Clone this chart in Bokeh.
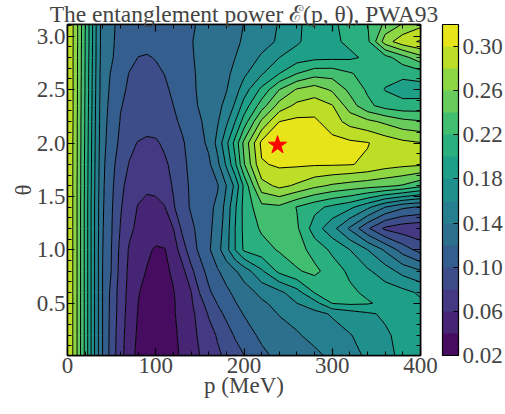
import numpy as np
from bokeh.plotting import figure
from bokeh.models import (LinearAxis, FixedTicker, PrintfTickFormatter, ColorBar,
                          LinearColorMapper, Range1d)
from bokeh.palettes import Viridis256
from bokeh.embed import file_html
from bokeh.resources import INLINE

# ---------------- data ----------------
p_values = [0, 5, 10, 15, 20, 25, 30, 35, 40,
            50, 60, 70, 80, 90, 100, 110, 120, 130, 140, 150, 160, 170, 180, 190, 200,
            220, 240, 260, 280, 300, 320, 340, 360, 380, 400]
theta_values = [0.0, 0.2, 0.4, 0.5, 0.6, 0.8, 1.0, 1.2, 1.4, 1.6, 1.8, 2.0,
                2.2, 2.35, 2.5, 2.65, 2.8, 2.95, 3.14]

row_000 = [0.293, 0.284, 0.264, 0.239, 0.215, 0.189, 0.163, 0.140, 0.119,
           0.091, 0.067, 0.048, 0.035, 0.030, 0.028, 0.030, 0.035, 0.043, 0.052, 0.060, 0.066, 0.076, 0.084, 0.092, 0.099,
           0.115, 0.125, 0.130, 0.135, 0.144, 0.153, 0.163, 0.175, 0.184, 0.190]
row_020 = [0.293, 0.284, 0.264, 0.239, 0.215, 0.189, 0.163, 0.140, 0.119,
           0.092, 0.068, 0.050, 0.037, 0.031, 0.029, 0.031, 0.036, 0.045, 0.054, 0.063, 0.072, 0.082, 0.092, 0.102, 0.111,
           0.124, 0.131, 0.138, 0.146, 0.152, 0.159, 0.167, 0.177, 0.186, 0.190]
row_040 = [0.293, 0.284, 0.264, 0.239, 0.215, 0.189, 0.163, 0.140, 0.119,
           0.093, 0.070, 0.052, 0.039, 0.033, 0.030, 0.032, 0.038, 0.047, 0.055, 0.067, 0.082, 0.094, 0.104, 0.113, 0.121,
           0.131, 0.141, 0.147, 0.154, 0.162, 0.170, 0.177, 0.183, 0.187, 0.186]
row_050 = [0.293, 0.284, 0.264, 0.239, 0.215, 0.189, 0.163, 0.140, 0.119,
           0.0935, 0.0705, 0.053, 0.040, 0.034, 0.031, 0.033, 0.038, 0.048, 0.057, 0.074, 0.088, 0.101, 0.110, 0.119, 0.126,
           0.137, 0.146, 0.160, 0.172, 0.201, 0.204, 0.202, 0.195, 0.190, 0.183]
row_060 = [0.293, 0.284, 0.264, 0.239, 0.215, 0.189, 0.163, 0.140, 0.119,
           0.094, 0.071, 0.054, 0.041, 0.035, 0.031, 0.033, 0.039, 0.049, 0.059, 0.081, 0.097, 0.107, 0.116, 0.124, 0.131,
           0.145, 0.155, 0.172, 0.201, 0.208, 0.204, 0.196, 0.190, 0.186, 0.177]
row_080 = [0.293, 0.284, 0.264, 0.239, 0.215, 0.189, 0.163, 0.140, 0.119,
           0.099, 0.073, 0.056, 0.046, 0.039, 0.034, 0.036, 0.043, 0.054, 0.075, 0.093, 0.106, 0.118, 0.128, 0.138, 0.149,
           0.177, 0.205, 0.218, 0.225, 0.210, 0.196, 0.183, 0.170, 0.153, 0.142]
row_100 = [0.293, 0.284, 0.264, 0.239, 0.215, 0.189, 0.163, 0.140, 0.120,
           0.0995, 0.075, 0.058, 0.050, 0.043, 0.038, 0.039, 0.050, 0.070, 0.091, 0.104, 0.117, 0.133, 0.153, 0.180, 0.203,
           0.212, 0.222, 0.229, 0.212, 0.196, 0.180, 0.160, 0.137, 0.111, 0.092]
row_120 = [0.293, 0.284, 0.264, 0.239, 0.215, 0.189, 0.163, 0.141, 0.121,
           0.101, 0.079, 0.064, 0.056, 0.051, 0.049, 0.052, 0.060, 0.084, 0.096, 0.106, 0.115, 0.129, 0.150, 0.180, 0.205,
           0.223, 0.234, 0.223, 0.190, 0.167, 0.137, 0.103, 0.076, 0.068, 0.065]
row_140 = [0.293, 0.284, 0.264, 0.239, 0.215, 0.189, 0.163, 0.141, 0.122,
           0.102, 0.082, 0.068, 0.059, 0.0555, 0.056, 0.059, 0.078, 0.092, 0.102, 0.108, 0.114, 0.125, 0.147, 0.177, 0.206,
           0.234, 0.236, 0.219, 0.206, 0.195, 0.185, 0.165, 0.140, 0.124, 0.118]
row_160 = [0.293, 0.284, 0.264, 0.240, 0.216, 0.190, 0.164, 0.142, 0.123,
           0.104, 0.085, 0.073, 0.066, 0.063, 0.064, 0.071, 0.082, 0.093, 0.103, 0.107, 0.111, 0.118, 0.140, 0.165, 0.204,
           0.272, 0.285, 0.277, 0.265, 0.257, 0.252, 0.248, 0.244, 0.238, 0.225]
row_180 = [0.293, 0.284, 0.265, 0.240, 0.216, 0.191, 0.165, 0.143, 0.124,
           0.106, 0.090, 0.079, 0.072, 0.069, 0.070, 0.076, 0.086, 0.096, 0.104, 0.109, 0.116, 0.135, 0.163, 0.196, 0.238,
           0.298, 0.303, 0.303, 0.302, 0.302, 0.301, 0.297, 0.289, 0.285, 0.283]
row_200 = [0.293, 0.284, 0.265, 0.241, 0.217, 0.192, 0.166, 0.144, 0.126,
           0.109, 0.096, 0.085, 0.079, 0.076, 0.077, 0.084, 0.091, 0.098, 0.106, 0.114, 0.124, 0.146, 0.175, 0.207, 0.245,
           0.305, 0.316, 0.314, 0.310, 0.307, 0.304, 0.301, 0.292, 0.285, 0.281]
row_220 = [0.293, 0.285, 0.265, 0.241, 0.218, 0.193, 0.167, 0.145, 0.127,
           0.112, 0.099, 0.093, 0.090, 0.089, 0.090, 0.093, 0.097, 0.103, 0.111, 0.118, 0.127, 0.138, 0.156, 0.180, 0.209,
           0.264, 0.300, 0.305, 0.304, 0.289, 0.273, 0.265, 0.256, 0.246, 0.242]
row_235 = [0.293, 0.285, 0.266, 0.242, 0.218, 0.194, 0.168, 0.145, 0.128,
           0.114, 0.101, 0.096, 0.094, 0.093, 0.094, 0.096, 0.100, 0.106, 0.114, 0.122, 0.128, 0.135, 0.145, 0.163, 0.188,
           0.230, 0.268, 0.285, 0.290, 0.281, 0.250, 0.225, 0.212, 0.207, 0.208]
row_250 = [0.293, 0.285, 0.266, 0.242, 0.219, 0.195, 0.169, 0.146, 0.129,
           0.116, 0.103, 0.098, 0.096, 0.095, 0.096, 0.098, 0.102, 0.108, 0.116, 0.123, 0.128, 0.133, 0.139, 0.152, 0.170,
           0.205, 0.240, 0.262, 0.270, 0.257, 0.235, 0.217, 0.199, 0.191, 0.190]
row_265 = [0.293, 0.285, 0.266, 0.243, 0.219, 0.195, 0.170, 0.146, 0.130,
           0.118, 0.106, 0.0995, 0.098, 0.0975, 0.098, 0.1002, 0.104, 0.110, 0.117, 0.123, 0.128, 0.132, 0.136, 0.145, 0.156,
           0.178, 0.200, 0.220, 0.232, 0.232, 0.222, 0.212, 0.206, 0.205, 0.210]
row_280 = [0.293, 0.285, 0.266, 0.243, 0.220, 0.196, 0.171, 0.147, 0.131,
           0.122, 0.111, 0.104, 0.0998, 0.0992, 0.1005, 0.103, 0.107, 0.112, 0.118, 0.124, 0.128, 0.132, 0.136, 0.140, 0.147,
           0.163, 0.180, 0.190, 0.195, 0.196, 0.197, 0.203, 0.212, 0.232, 0.253]
row_295 = [0.293, 0.285, 0.267, 0.244, 0.220, 0.197, 0.172, 0.147, 0.132,
           0.123, 0.113, 0.107, 0.104, 0.103, 0.104, 0.106, 0.109, 0.114, 0.119, 0.124, 0.128, 0.131, 0.134, 0.137, 0.142,
           0.152, 0.163, 0.177, 0.190, 0.197, 0.203, 0.215, 0.270, 0.293, 0.302]
row_314 = [0.293, 0.285, 0.267, 0.244, 0.221, 0.197, 0.172, 0.148, 0.132,
           0.124, 0.114, 0.109, 0.106, 0.105, 0.106, 0.108, 0.110, 0.114, 0.118, 0.1215, 0.125, 0.128, 0.131, 0.135, 0.140,
           0.150, 0.161, 0.177, 0.187, 0.197, 0.207, 0.220, 0.242, 0.256, 0.270]

levels = [0.02, 0.04, 0.06, 0.08, 0.10, 0.12, 0.14, 0.16, 0.18, 0.20, 0.22,
          0.24, 0.26, 0.28, 0.30, 0.32]
cbar_ticks = [0.02, 0.06, 0.10, 0.14, 0.18, 0.22, 0.26, 0.30]
x_ticks = [0, 100, 200, 300, 400]
y_ticks = [0.5, 1.0, 1.5, 2.0, 2.5, 3.0]
star_p = [238]
star_theta = [1.98]

# ---------------- figure ----------------
FONT = "Liberation Serif"
Z = np.array([row_000, row_020, row_040, row_050, row_060, row_080, row_100,
              row_120, row_140, row_160, row_180, row_200, row_220, row_235,
              row_250, row_265, row_280, row_295, row_314])

n_bands = len(levels) - 1
band_colors = [Viridis256[int(round((i + 0.5) / n_bands * 255))] for i in range(n_bands)]

p = figure(width=505, height=414, x_range=Range1d(0, 400), y_range=Range1d(0.01, 3.11),
           output_backend="svg", toolbar_location=None,
           title="The entanglement power ℰ(p, θ), PWA93",
           x_axis_label="p (MeV)", y_axis_label="θ")
p.min_border_left = 67
p.min_border_right = 0
p.min_border_top = 0
p.min_border_bottom = 59
p.background_fill_color = "white"
p.border_fill_color = "white"
p.outline_line_color = "black"
p.outline_line_width = 1.5
p.grid.visible = False

p.title.align = "center"
p.title.text_font = FONT
p.title.text_font_size = "23.5px"
p.title.text_font_style = "normal"
p.title.standoff = -4

p.contour(x=p_values, y=theta_values, z=Z, levels=levels,
          fill_color=band_colors, line_color="black", line_width=1.0)

p.scatter(x=star_p, y=star_theta, marker="star", size=19,
          fill_color="red", line_color="red")

x_minor = list(range(0, 401, 20))
y_minor = [round(0.1 * k, 1) for k in range(0, 32)]

def style_axis(ax, labels=True):
    ax.major_tick_in = 7
    ax.major_tick_out = 0
    ax.minor_tick_in = 4
    ax.minor_tick_out = 0
    ax.axis_line_color = "black"
    ax.axis_line_width = 1.5
    ax.major_tick_line_width = 1.2
    ax.minor_tick_line_width = 1.0
    ax.major_label_text_font = FONT
    ax.axis_label_text_font = FONT
    ax.axis_label_text_font_style = "normal"
    if labels:
        ax.major_label_text_font_size = "23px"
        ax.axis_label_text_font_size = "23px"
        ax.major_label_standoff = 2
        ax.axis_label_standoff = -2
    else:
        ax.major_label_text_font_size = "1px"
        ax.major_label_text_color = None
        ax.major_label_standoff = 0

p.xaxis.ticker = FixedTicker(ticks=x_ticks, minor_ticks=x_minor)
p.yaxis.ticker = FixedTicker(ticks=y_ticks, minor_ticks=y_minor)
p.yaxis.formatter = PrintfTickFormatter(format="%.1f")
style_axis(p.xaxis[0])
style_axis(p.yaxis[0])
p.xaxis[0].axis_label_standoff = -3

top_axis = LinearAxis(ticker=FixedTicker(ticks=x_ticks, minor_ticks=x_minor))
style_axis(top_axis, labels=False)
p.add_layout(top_axis, "above")
right_axis = LinearAxis(ticker=FixedTicker(ticks=y_ticks, minor_ticks=y_minor))
style_axis(right_axis, labels=False)
p.add_layout(right_axis, "right")

# invisible spacer axis: leaves the gap between the frame and the colour bar
spacer = LinearAxis(ticker=FixedTicker(ticks=[1.0], minor_ticks=[]))
spacer.major_tick_in = 0
spacer.major_tick_out = 22
spacer.minor_tick_in = 0
spacer.minor_tick_out = 0
spacer.major_tick_line_color = None
spacer.minor_tick_line_color = None
spacer.axis_line_color = None
spacer.major_label_text_font_size = "1px"
spacer.major_label_text_color = None
spacer.major_label_standoff = 0
p.add_layout(spacer, "right")

mapper = LinearColorMapper(palette=band_colors, low=levels[0], high=levels[-1])
cb = ColorBar(color_mapper=mapper, ticker=FixedTicker(ticks=cbar_ticks),
              formatter=PrintfTickFormatter(format="%.2f"),
              width=16, padding=0, margin=0, label_standoff=4,
              major_label_text_font=FONT, major_label_text_font_size="23px",
              bar_line_color="black", bar_line_width=1.2,
              major_tick_line_color="black", major_tick_in=5, major_tick_out=0,
              minor_tick_line_color=None,
              background_fill_alpha=0, border_line_color=None)
p.add_layout(cb, "right")

open("out.html", "w").write(file_html(p, INLINE))
